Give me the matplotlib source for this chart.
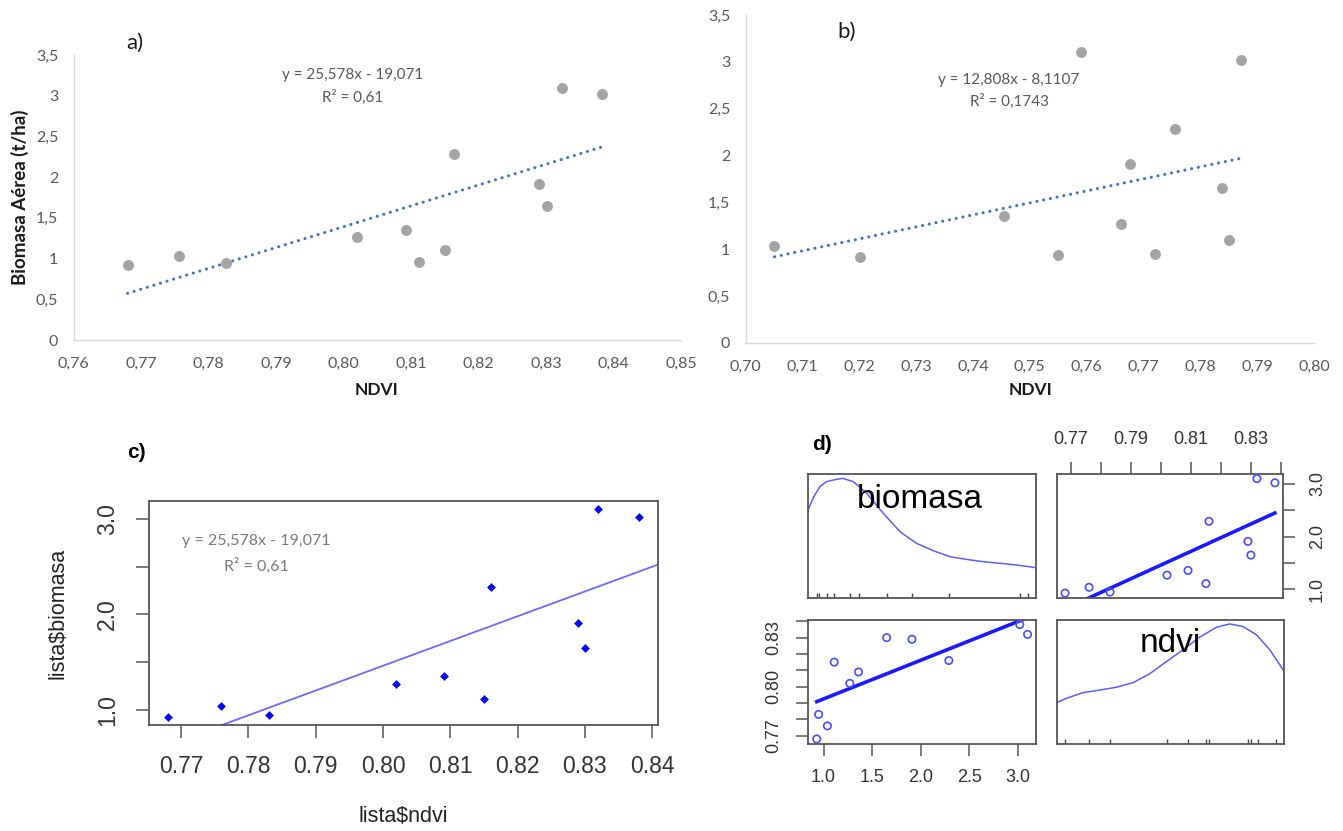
import numpy as np
import matplotlib.pyplot as plt
from matplotlib.transforms import blended_transform_factory

# ---- data ----
# a) Excel scatter, NDVI vs biomass
ndvi_a = [0.768, 0.7757, 0.7826, 0.802, 0.8092, 0.8112, 0.8151, 0.8164, 0.8289, 0.8301, 0.8323, 0.8383]
biomasa_a = [0.92, 1.03, 0.95, 1.27, 1.35, 0.96, 1.11, 2.29, 1.91, 1.65, 3.10, 3.02]
fit_a = (25.578, -19.071)
eq_a = ['y = 25,578x - 19,071', 'R² = 0,61']

# b) Excel scatter, second NDVI set
ndvi_b = [0.7051, 0.7201, 0.7454, 0.7550, 0.7590, 0.7660, 0.7677, 0.7721, 0.7755, 0.7839, 0.7851, 0.7872]
biomasa_b = [1.03, 0.92, 1.35, 0.94, 3.11, 1.27, 1.91, 0.95, 2.28, 1.65, 1.10, 3.02]
fit_b = (12.808, -8.1107)
eq_b = ['y = 12,808x - 8,1107', 'R² = 0,1743']

# c) and d) R plots (lista$ndvi, lista$biomasa)
ndvi_r = [0.768, 0.776, 0.783, 0.802, 0.809, 0.815, 0.816, 0.829, 0.830, 0.832, 0.838]
biomasa_r = [0.93, 1.04, 0.95, 1.27, 1.36, 1.11, 2.29, 1.91, 1.65, 3.10, 3.02]

# density curves on the diagonal of d)
dens_bio_x = [0.843, 0.90, 0.963, 1.03, 1.10, 1.196, 1.306, 1.444, 1.615, 1.787, 1.958, 2.13, 2.30, 2.47, 2.645, 2.82, 2.99, 3.187]
dens_bio_y = [2.517, 2.76, 2.947, 3.04, 3.073, 3.105, 3.042, 2.821, 2.442, 2.094, 1.873, 1.734, 1.620, 1.570, 1.525, 1.494, 1.462, 1.412]
dens_ndvi_x = [0.7648, 0.7684, 0.7739, 0.7795, 0.7850, 0.7906, 0.7961, 0.8017, 0.8072, 0.8128, 0.8184, 0.8228, 0.8272, 0.8317, 0.8361, 0.8409]
dens_ndvi_y = [0.7898, 0.7928, 0.7963, 0.7979, 0.7996, 0.8024, 0.8078, 0.8153, 0.8225, 0.8303, 0.8364, 0.8384, 0.8368, 0.8317, 0.8225, 0.8092]

# tick labels
xt_a = [0.76, 0.77, 0.78, 0.79, 0.80, 0.81, 0.82, 0.83, 0.84, 0.85]
xt_b = [0.70, 0.71, 0.72, 0.73, 0.74, 0.75, 0.76, 0.77, 0.78, 0.79, 0.80]
yt_xl = [0, 0.5, 1, 1.5, 2, 2.5, 3, 3.5]
ytl_xl = ['0', '0,5', '1', '1,5', '2', '2,5', '3', '3,5']
xt_r = [0.77, 0.78, 0.79, 0.80, 0.81, 0.82, 0.83, 0.84]
xtl_c = ['0.77', '0.78', '0.79', '0.80', '0.81', '0.82', '0.83', '0.84']
xtl_d_top = ['0.77', '', '0.79', '', '0.81', '', '0.83', '']
xtl_d_left = ['0.77', '', '', '0.80', '', '', '0.83', '']
yt_bio = [1.0, 1.5, 2.0, 2.5, 3.0]
ytl_bio = ['1.0', '', '2.0', '', '3.0']
xtl_bio = ['1.0', '1.5', '2.0', '2.5', '3.0']

W, H = 1343, 831
fig = plt.figure(figsize=(W / 100, H / 100), dpi=100)

XL_FONT = 'Lato'
R_FONT = 'Liberation Sans'


def box(x0, y0, x1, y1):
    return [x0 / W, 1 - y1 / H, (x1 - x0) / W, (y1 - y0) / H]


def ftext(x, y, s, **kw):
    fig.text(x / W, 1 - y / H, s, **kw)


def rlim(v):
    lo, hi = min(v), max(v)
    r = hi - lo
    return lo - 0.04 * r, hi + 0.04 * r


def excel_panel(rect, xs, ys, fit, xt, dec_lab):
    ax = fig.add_axes(rect)
    ax.scatter(xs, ys, s=62, color='#A5A5A5', linewidths=0, zorder=3)
    xx = np.array([min(xs), max(xs)])
    ax.plot(xx, fit[0] * xx + fit[1], color='#4472C4', lw=2.2,
            linestyle=(0, (0.05, 2.2)), dash_capstyle='round', zorder=2)
    ax.set_xlim(xt[0], xt[-1])
    ax.set_ylim(0, 3.5)
    ax.set_xticks(xt)
    ax.set_xticklabels(dec_lab)
    ax.set_yticks(yt_xl)
    ax.set_yticklabels(ytl_xl)
    for s in ['top', 'right']:
        ax.spines[s].set_visible(False)
    for s in ['left', 'bottom']:
        ax.spines[s].set_color('#D9D9D9')
        ax.spines[s].set_linewidth(1.0)
    ax.tick_params(length=0, labelsize=11.5, labelcolor='#595959')
    ax.tick_params(axis='x', pad=12)
    ax.tick_params(axis='y', pad=11)
    for lab in ax.get_xticklabels() + ax.get_yticklabels():
        lab.set_family(XL_FONT)
    return ax


# ---- a) ----
ax_a = excel_panel(box(73.5, 55, 681, 340), ndvi_a, biomasa_a, fit_a, xt_a,
                   [('%.2f' % v).replace('.', ',') for v in xt_a])
ftext(135, 43, 'a)', fontsize=16, family=XL_FONT, color='#1a1a1a', ha='center', va='center')
ftext(353, 75, eq_a[0], fontsize=11, family=XL_FONT, color='#595959', ha='center', va='center')
ftext(353, 97, eq_a[1], fontsize=11, family=XL_FONT, color='#595959', ha='center', va='center')
ftext(20, 197, 'Biomasa Aérea (t/ha)', fontsize=13.5, family=XL_FONT, fontweight='bold',
      rotation=90, ha='center', va='center', color='#1a1a1a')
ftext(377, 390, 'NDVI', fontsize=12.5, family=XL_FONT, fontweight='bold', ha='center', va='center',
      color='#1a1a1a')

# ---- b) ----
ax_b = excel_panel(box(745.5, 15, 1314, 343), ndvi_b, biomasa_b, fit_b, xt_b,
                   [('%.2f' % v).replace('.', ',') for v in xt_b])
ftext(847, 32, 'b)', fontsize=16, family=XL_FONT, color='#1a1a1a', ha='center', va='center')
ftext(1009, 80, eq_b[0], fontsize=11, family=XL_FONT, color='#595959', ha='center', va='center')
ftext(1009, 101, eq_b[1], fontsize=11, family=XL_FONT, color='#595959', ha='center', va='center')
ftext(1030, 390, 'NDVI', fontsize=12.5, family=XL_FONT, fontweight='bold', ha='center', va='center',
      color='#1a1a1a')


# ---- R style helpers ----
def r_axes(rect):
    ax = fig.add_axes(rect)
    for s in ax.spines.values():
        s.set_color('#555555')
        s.set_linewidth(1.3)
    return ax


def r_ticks(ax, size, length, pad):
    ax.tick_params(direction='out', length=length, width=1.1, color='#555555',
                   labelsize=size, labelcolor='#333333', pad=pad)
    for lab in ax.get_xticklabels() + ax.get_yticklabels():
        lab.set_family(R_FONT)


def rotate_y(ax):
    for lab in ax.get_yticklabels():
        lab.set_rotation(90)
        lab.set_va('center')


# ---- c) ----
ax_c = r_axes(box(148.7, 501, 657.6, 725))
ax_c.scatter(ndvi_r, biomasa_r, marker='D', s=20, color='#0000FF', linewidths=0, zorder=3)
k_c, b_c = np.polyfit(ndvi_r, biomasa_r, 1)
xl_c = rlim(ndvi_r)
yl_c = rlim(biomasa_r)
xx = np.array(xl_c)
ax_c.plot(xx, k_c * xx + b_c, color='#6A6AFF', lw=1.3)
ax_c.set_xlim(xl_c)
ax_c.set_ylim(yl_c)
ax_c.set_xticks(xt_r)
ax_c.set_xticklabels(xtl_c)
ax_c.set_yticks(yt_bio)
ax_c.set_yticklabels(ytl_bio)
r_ticks(ax_c, 16.5, 9.5, 12)
rotate_y(ax_c)
ax_c.text(0.212, 0.82, eq_a[0], transform=ax_c.transAxes, fontsize=11.5, family=XL_FONT,
          color='#7a7a7a', ha='center', va='center')
ax_c.text(0.212, 0.71, eq_a[1], transform=ax_c.transAxes, fontsize=11.5, family=XL_FONT,
          color='#7a7a7a', ha='center', va='center')
ftext(136, 453, 'c)', fontsize=15, family=R_FONT, fontweight='bold', ha='center', va='center')
ftext(58, 613, 'lista$biomasa', fontsize=15.5, family=R_FONT, rotation=90, ha='center',
      va='center', color='#222222')
ftext(403, 816, 'lista$ndvi', fontsize=15.5, family=R_FONT, ha='center', va='center', color='#222222')

# ---- d) scatterplot matrix ----
xl_n = rlim(ndvi_r)
xl_bm = rlim(biomasa_r)
PT = '#4B4BFF'
LN = '#1A1AFF'

ax_ul = r_axes(box(808.3, 474, 1036, 597.7))
ax_ul.plot(dens_bio_x, dens_bio_y, color='#5C5CFF', lw=1.1)
ax_ul.vlines(biomasa_r, 0, 0.035, transform=blended_transform_factory(ax_ul.transData, ax_ul.transAxes),
             color='#444444', lw=1)
ax_ul.set_xlim(xl_bm)
ax_ul.set_ylim(xl_bm)
ax_ul.set_xticks([])
ax_ul.set_yticks([])
ax_ul.text(0.49, 0.79, 'biomasa', transform=ax_ul.transAxes, fontsize=24, family=R_FONT,
           ha='center', va='center', color='black')

ax_ur = r_axes(box(1056.7, 474, 1283.3, 597.7))
ax_ur.scatter(ndvi_r, biomasa_r, s=28, facecolors='none', edgecolors=PT, linewidths=1.2, zorder=3)
k1, b1 = np.polyfit(ndvi_r, biomasa_r, 1)
xx = np.array([min(ndvi_r), max(ndvi_r)])
ax_ur.plot(xx, k1 * xx + b1, color=LN, lw=2.6)
ax_ur.set_xlim(xl_n)
ax_ur.set_ylim(xl_bm)
ax_ur.xaxis.tick_top()
ax_ur.yaxis.tick_right()
ax_ur.set_xticks(xt_r)
ax_ur.set_xticklabels(xtl_d_top)
ax_ur.set_yticks(yt_bio)
ax_ur.set_yticklabels(ytl_bio)
r_ticks(ax_ur, 13, 8.5, 10)
rotate_y(ax_ur)

ax_ll = r_axes(box(808.3, 620, 1036, 743.5))
ax_ll.scatter(biomasa_r, ndvi_r, s=28, facecolors='none', edgecolors=PT, linewidths=1.2, zorder=3)
k2, b2 = np.polyfit(biomasa_r, ndvi_r, 1)
xx = np.array([min(biomasa_r), max(biomasa_r)])
ax_ll.plot(xx, k2 * xx + b2, color=LN, lw=2.6)
ax_ll.set_xlim(xl_bm)
ax_ll.set_ylim(xl_n)
ax_ll.set_xticks(yt_bio)
ax_ll.set_xticklabels(xtl_bio)
ax_ll.set_yticks(xt_r)
ax_ll.set_yticklabels(xtl_d_left)
r_ticks(ax_ll, 13, 8.5, 10)
rotate_y(ax_ll)

ax_lr = r_axes(box(1056.5, 620, 1284, 743.5))
ax_lr.plot(dens_ndvi_x, dens_ndvi_y, color='#5C5CFF', lw=1.1)
ax_lr.vlines(ndvi_r, 0, 0.035, transform=blended_transform_factory(ax_lr.transData, ax_lr.transAxes),
             color='#444444', lw=1)
ax_lr.set_xlim(xl_n)
ax_lr.set_ylim(xl_n)
ax_lr.set_xticks([])
ax_lr.set_yticks([])
ax_lr.text(0.50, 0.81, 'ndvi', transform=ax_lr.transAxes, fontsize=24, family=R_FONT,
           ha='center', va='center', color='black')

ftext(822, 445, 'd)', fontsize=15, family=R_FONT, fontweight='bold', ha='center', va='center')

fig.savefig('out.png', dpi=100)
